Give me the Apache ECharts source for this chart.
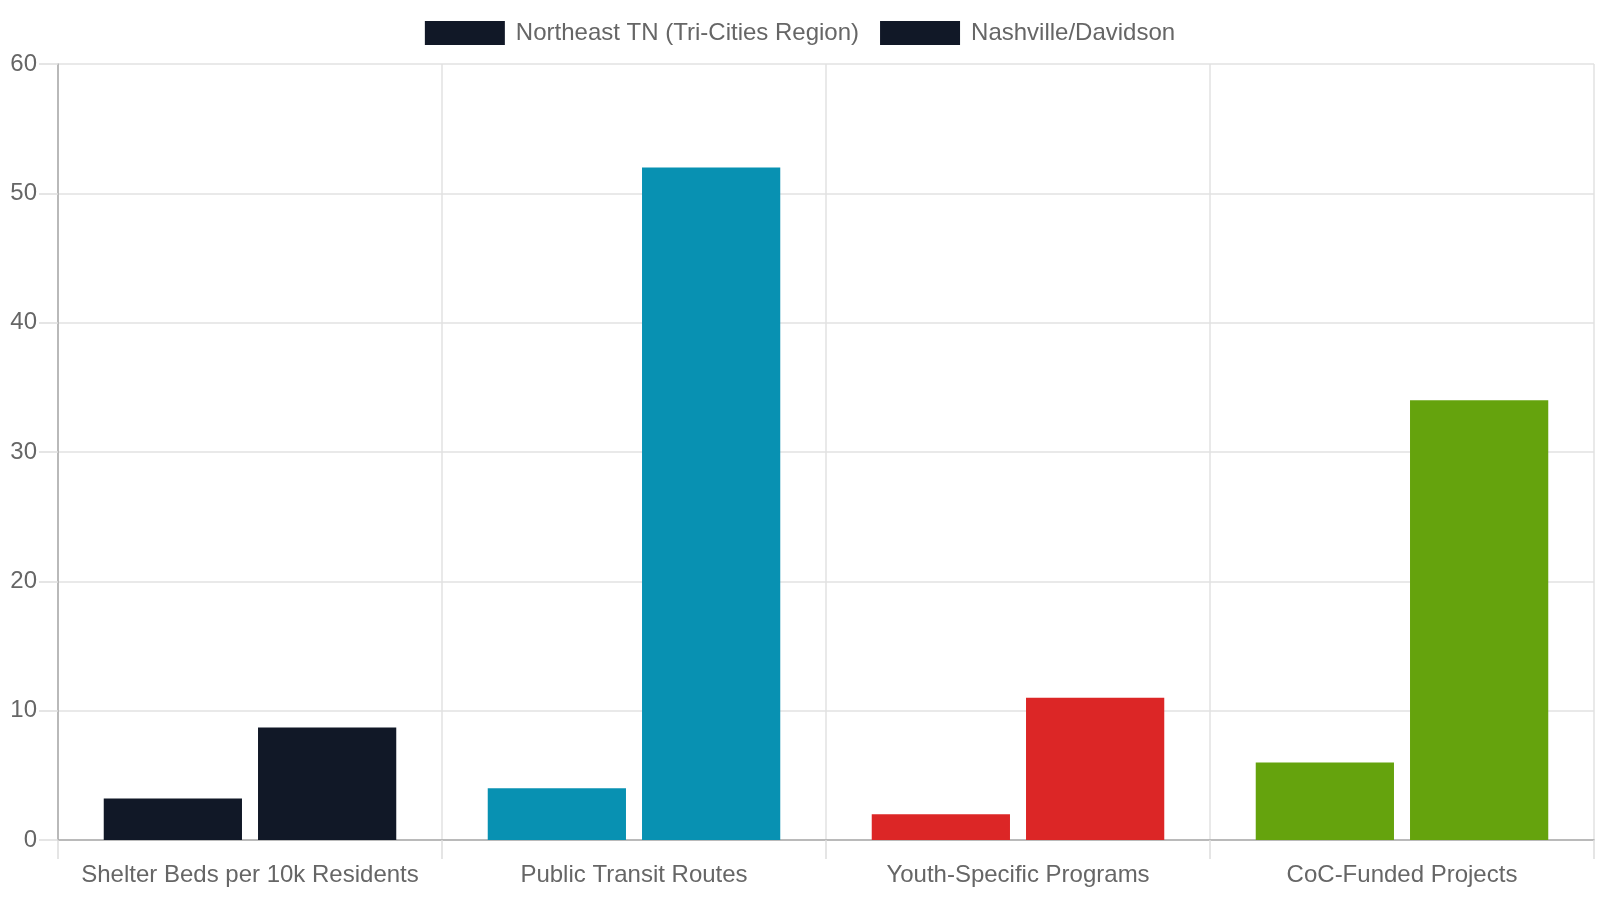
<!DOCTYPE html>
<html lang="en">
<head>
    <meta http-equiv="Content-Type" content="text/html; charset=utf-8"/>
    <title>Service comparison</title>
    <script type="text/javascript" src="https://cdn.jsdelivr.net/npm/echarts@6/dist/echarts.min.js"></script>
    <style>
        html, body { margin: 0; padding: 0; background: #fff; }
        #chart { width: 1600px; height: 900px; }
    </style>
</head>
<body>
<div id="chart"></div>
<script type="text/javascript">
    // data
    var categories = ['Shelter Beds per 10k Residents', 'Public Transit Routes', 'Youth-Specific Programs', 'CoC-Funded Projects'];
    var seriesNames = ['Northeast TN (Tri-Cities Region)', 'Nashville/Davidson'];
    var northeastValues = [3.2, 4, 2, 6];
    var nashvilleValues = [8.7, 52, 11, 34];
    var categoryColors = ['#111827', '#0891b2', '#dc2626', '#65a30d'];
    var yTicks = { min: 0, max: 60, interval: 10 };

    function coloredData(values) {
        var out = [];
        for (var i = 0; i < values.length; i++) {
            out.push({ value: values[i], itemStyle: { color: categoryColors[i] } });
        }
        return out;
    }

    var myChart = echarts.init(document.getElementById('chart'));
    var font = 'Liberation Sans, Arial, sans-serif';
    var option = {
        animation: false,
        textStyle: { fontFamily: font },
        legend: {
            top: 16,
            left: 'center',
            itemWidth: 80,
            itemHeight: 24,
            itemGap: 21,
            icon: 'rect',
            textStyle: { fontSize: 24, color: '#666', fontFamily: font, padding: [0, 0, 0, 6] },
            data: seriesNames
        },
        grid: { left: 58, right: 6, top: 64, bottom: 60, containLabel: false },
        xAxis: {
            type: 'category',
            data: categories,
            axisLine: { lineStyle: { color: '#aaa', width: 1.5 } },
            axisTick: { show: true, interval: 0, length: 19, lineStyle: { color: '#ddd', width: 1.5 } },
            splitLine: { show: true, interval: 0, lineStyle: { color: '#e2e2e2', width: 1.5 } },
            axisLabel: { interval: 0, fontSize: 24, color: '#666', margin: 23, fontFamily: font }
        },
        yAxis: {
            type: 'value',
            min: yTicks.min,
            max: yTicks.max,
            interval: yTicks.interval,
            axisLine: { show: true, lineStyle: { color: '#aaa', width: 1.5 } },
            axisTick: { show: true, length: 19, lineStyle: { color: '#ddd', width: 1.5 } },
            splitLine: { show: true, lineStyle: { color: '#e2e2e2', width: 1.5 } },
            axisLabel: { fontSize: 24, color: '#666', margin: 21, fontFamily: font }
        },
        series: [
            {
                name: seriesNames[0],
                type: 'bar',
                itemStyle: { color: '#111827' },
                barWidth: '36%',
                barGap: '11.6%',
                data: coloredData(northeastValues)
            },
            {
                name: seriesNames[1],
                type: 'bar',
                itemStyle: { color: '#111827' },
                barWidth: '36%',
                barGap: '11.6%',
                data: coloredData(nashvilleValues)
            }
        ]
    };
    myChart.setOption(option);
</script>
</body>
</html>
